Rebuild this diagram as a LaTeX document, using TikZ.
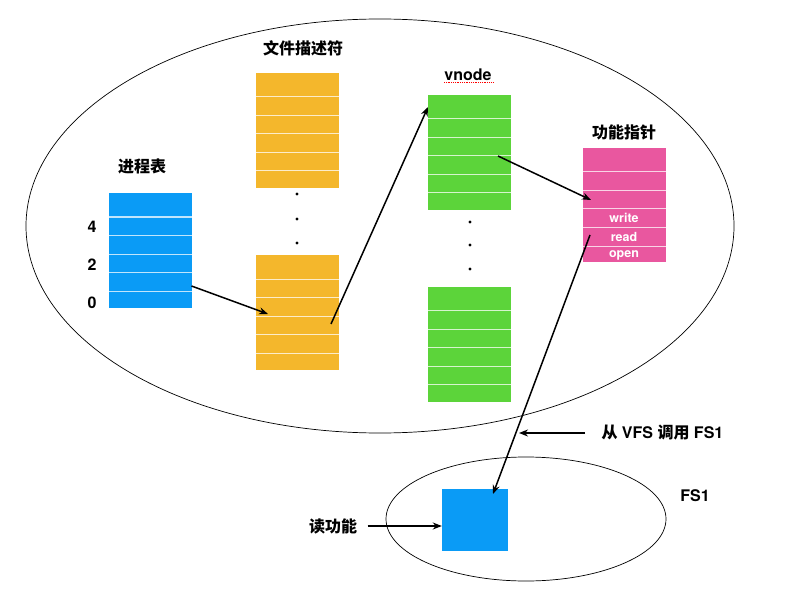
\documentclass[tikz,border=0pt]{standalone}
\usepackage{fontspec}
\setmainfont{TeX Gyre Heros}
\newfontfamily\cjk{Noto Sans CJK SC}
\usetikzlibrary{arrows.meta,calc}
\definecolor{procblue}{HTML}{0A9BF6}
\definecolor{fdorange}{HTML}{F4B72C}
\definecolor{vgreen}{HTML}{5CD43A}
\definecolor{fpink}{HTML}{E9579F}
\newcommand{\rowlines}[1]{\foreach \d in {24,42.5,61,79.5,98}
  \draw[rowline] ($(#1.north west)+(0,\d)$) -- ($(#1.north east)+(0,\d)$);}

\begin{document}
\begin{tikzpicture}[x=1bp,y=-1bp,>={Stealth[length=9bp,width=7bp]},
  blk/.style={anchor=north west,inner sep=0,outer sep=0,minimum width=82.5bp,minimum height=115bp},
  rowline/.style={white,opacity=0.75,line width=1bp},
  lbl/.style={font=\bfseries\fontsize{16bp}{19bp}\selectfont},
  cell/.style={white,font=\bfseries\fontsize{12.5bp}{14bp}\selectfont},
  arr/.style={line width=1.5bp,->}]

\useasboundingbox (0,0) rectangle (800,589);

\draw[line width=0.7bp] (380,226) ellipse [x radius=354bp, y radius=207bp];
\draw[line width=0.7bp] (526,519) ellipse [x radius=140bp, y radius=62bp];

%Tables

\node[blk,fill=procblue] (proc) at (109,193) {};
\rowlines{proc}
\node[lbl] (proclbl) at (142,166) {\cjk 进程表};
\node[lbl] (idx4) at (92,227) {4};
\node[lbl] (idx2) at (92,265) {2};
\node[lbl] (idx0) at (92,303) {0};

\node[blk,fill=fdorange] (fdtop) at (256,73) {};
\rowlines{fdtop}
\node[blk,fill=fdorange] (fdbot) at (256,255) {};
\rowlines{fdbot}
\node[lbl] (fdlbl) at (303,48) {\cjk 文件描述符};
\fill (297,194) circle (1.6bp);
\fill (297,219) circle (1.6bp);
\fill (297,243) circle (1.6bp);

\node[blk,fill=vgreen] (vtop) at (428,95) {};
\rowlines{vtop}
\node[blk,fill=vgreen] (vbot) at (428,286.5) {};
\rowlines{vbot}
\node[lbl] (vlbl) at (468,75) {vnode};
\draw[red,densely dotted,line width=0.8bp] (444,82) -- (493,82);
\fill (470,222) circle (1.6bp);
\fill (470,245) circle (1.6bp);
\fill (470,269) circle (1.6bp);

\node[blk,fill=fpink,minimum height=114bp] (func) at (583,148) {};
\rowlines{func}
\node[lbl] (funclbl) at (624,132) {\cjk 功能指针};
\node[cell] (fwrite) at (624,218) {write};
\node[cell] (fread) at (624,236.5) {read};
\node[cell] (fopen) at (624,255) {open};

\node[fill=procblue,inner sep=0,minimum width=66bp,minimum height=62bp] (fs1) at (475,520) {};
\node[lbl] (fs1lbl) at (695,496) {FS1};
\node[lbl] (readlbl) at (333,526) {\cjk 读功能};
\node[lbl,anchor=west] (vfslbl) at (598,433) {{\cjk 从} VFS {\cjk 调用} FS1};

%Pointers

\coordinate (procout) at ($(proc.north east)+(0,93)$);
\coordinate (fdin) at (268,314);
\coordinate (fdout) at (331,324);
\coordinate (vin) at ($(vtop.north west)+(0,12)$);
\coordinate (vout) at (498,156);
\coordinate (fin) at (591,200);
\coordinate (fout) at (590,235);
\coordinate (fsin) at (493,494);
\coordinate (vfsin) at (519,433);

\draw[arr] (procout) -- (fdin);
\draw[arr] (fdout) -- (vin);
\draw[arr] (vout) -- (fin);
\draw[arr] (fout) -- (fsin);
\draw[arr] ($(vfslbl.west)+(-13,0)$) -- (vfsin);
\draw[arr] ($(readlbl.east)+(7,0)$) -- (fs1.west |- readlbl.east);

\end{tikzpicture}
\end{document}
